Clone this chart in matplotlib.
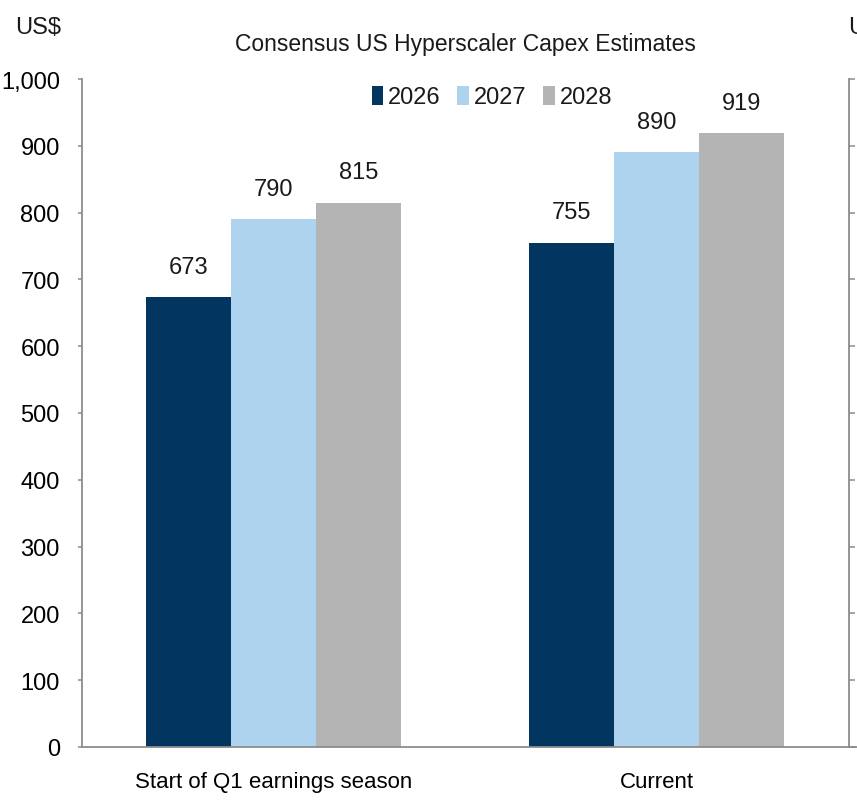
import numpy as np
import matplotlib
matplotlib.use("Agg")
import matplotlib.pyplot as plt

categories = ["Start of Q1 earnings season", "Current"]
years = ["2026", "2027", "2028"]
values_2026 = [673, 755]
values_2027 = [790, 890]
values_2028 = [815, 919]
y_ticks = [0, 100, 200, 300, 400, 500, 600, 700, 800, 900, 1000]
y_tick_labels = ["0", "100", "200", "300", "400", "500", "600", "700", "800", "900", "1,000"]

colors = ["#02355f", "#aed3ef", "#b4b4b4"]
spine_col = "#8c8c8c"
fs = 16

plt.rcParams["font.family"] = ["Liberation Sans Narrow", "Liberation Sans", "DejaVu Sans"]
plt.rcParams["text.color"] = "#1a1a1a"

fig = plt.figure(figsize=(8.57, 8.03), dpi=100)
ax = fig.add_axes([82 / 857, 55 / 803, 766 / 857, 668 / 803])

x = np.arange(len(categories))
w = 0.222
series = [values_2026, values_2027, values_2028]
for i, (yr, vals) in enumerate(zip(years, series)):
    bars = ax.bar(x + (i - 1) * w, vals, width=w, color=colors[i], label=yr)
    ax.bar_label(bars, labels=[str(v) for v in vals], padding=14, fontsize=fs + 1)

ax.set_xlim(-0.5, 1.5)
ax.set_ylim(0, 1000)
ax.set_yticks(y_ticks)
ax.set_yticklabels(y_tick_labels)
ax.set_xticks(x)
ax.set_xticklabels(categories)
ax.tick_params(axis="y", length=3, width=1.1, color=spine_col, pad=13, labelsize=fs + 1)
ax.tick_params(axis="x", length=0, pad=17, labelsize=fs)
for s in ["top", "right"]:
    ax.spines[s].set_visible(False)
for s in ["left", "bottom"]:
    ax.spines[s].set_color(spine_col)
    ax.spines[s].set_linewidth(1.3)

ax.legend(loc="center", bbox_to_anchor=(0.535, 0.973), ncol=3, frameon=False,
          fontsize=fs + 1, handlelength=0.5, handleheight=0.85, handletextpad=0.2,
          columnspacing=0.7, borderaxespad=0)

fig.text(465 / 857, 1 - 45 / 803, "Consensus US Hyperscaler Capex Estimates",
         ha="center", va="center", fontsize=fs + 0.5)
fig.text(15 / 857, 1 - 28 / 803, "US$", ha="left", va="center", fontsize=fs + 1)

# neighbouring chart cut off at the right edge
ax2 = fig.add_axes([849 / 857, 55 / 803, 0.1, 668 / 803])
ax2.set_ylim(0, 1000)
ax2.set_yticks(y_ticks)
ax2.set_yticklabels([])
ax2.set_xticks([])
ax2.tick_params(axis="y", direction="in", length=4, width=1.1, color=spine_col)
for s in ["top", "right"]:
    ax2.spines[s].set_visible(False)
for s in ["left", "bottom"]:
    ax2.spines[s].set_color(spine_col)
    ax2.spines[s].set_linewidth(1.3)
fig.text(848 / 857, 1 - 28 / 803, "US$", ha="left", va="center", fontsize=fs + 1)

fig.savefig("out.png", dpi=100)
